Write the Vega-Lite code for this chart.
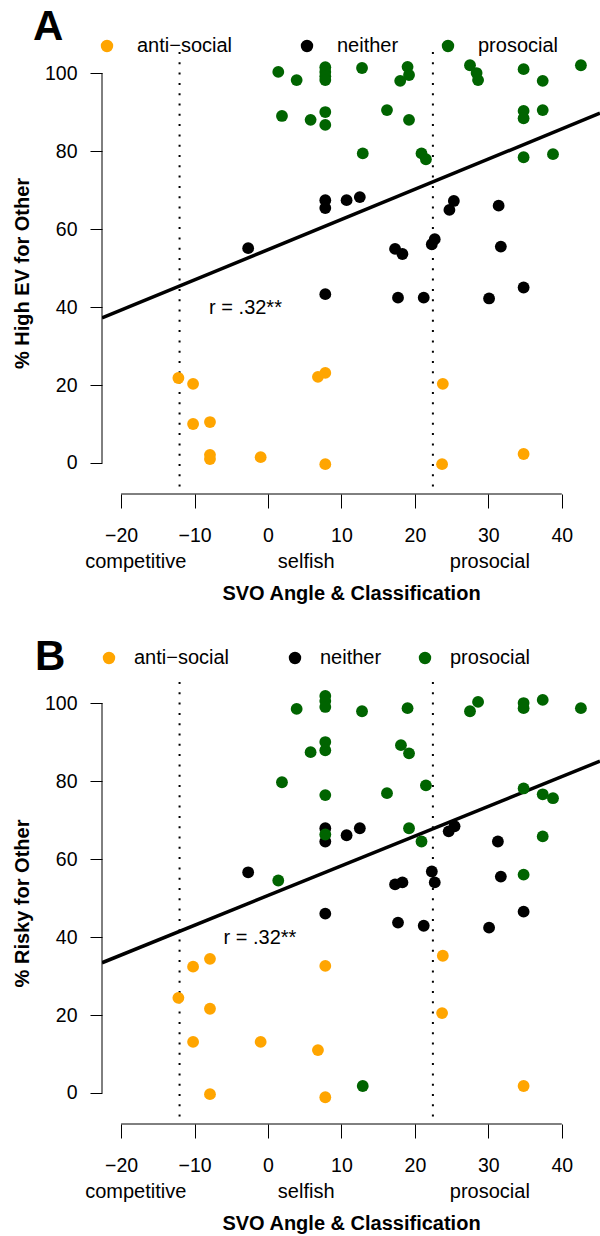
{
  "$schema": "https://vega.github.io/schema/vega-lite/v6.json",
  "autosize": {"type": "none"},
  "padding": {"left": 102, "top": 52, "right": 498, "bottom": 1184},
  "background": "white",
  "bounds": "flush",
  "spacing": 188,
  "config": {
    "font": "Liberation Sans",
    "view": {"stroke": null},
    "axis": {
      "grid": false,
      "domain": false,
      "tickColor": "black",
      "tickWidth": 1,
      "labelColor": "black",
      "titleColor": "black",
      "labelFont": "Liberation Sans",
      "titleFont": "Liberation Sans",
      "labelFontSize": 19.5,
      "titleFontSize": 20,
      "titleFontWeight": "bold",
      "labelFlush": false,
      "labelOverlap": false
    },
    "legend": {
      "orient": "none",
      "direction": "horizontal",
      "title": null,
      "symbolType": "circle",
      "symbolSize": 154,
      "symbolOpacity": 1,
      "symbolStrokeWidth": 0,
      "labelFontSize": 20,
      "labelFont": "Liberation Sans",
      "labelColor": "black",
      "padding": 0
    },
    "text": {"font": "Liberation Sans", "color": "black"}
  },
  "datasets": {
    "A": [
      {"svo": -12.2, "pct": 21.8, "cls": "anti−social"},
      {"svo": -10.2, "pct": 20.3, "cls": "anti−social"},
      {"svo": -10.2, "pct": 10.0, "cls": "anti−social"},
      {"svo": -7.9, "pct": 10.5, "cls": "anti−social"},
      {"svo": -7.9, "pct": 2.1, "cls": "anti−social"},
      {"svo": -7.9, "pct": 1.0, "cls": "anti−social"},
      {"svo": -1.0, "pct": 1.5, "cls": "anti−social"},
      {"svo": 6.8, "pct": 22.1, "cls": "anti−social"},
      {"svo": 7.8, "pct": 23.1, "cls": "anti−social"},
      {"svo": 23.8, "pct": 20.3, "cls": "anti−social"},
      {"svo": 7.8, "pct": -0.3, "cls": "anti−social"},
      {"svo": 23.7, "pct": -0.3, "cls": "anti−social"},
      {"svo": 34.8, "pct": 2.3, "cls": "anti−social"},
      {"svo": -2.7, "pct": 55.1, "cls": "neither"},
      {"svo": 7.8, "pct": 67.4, "cls": "neither"},
      {"svo": 7.8, "pct": 65.4, "cls": "neither"},
      {"svo": 10.7, "pct": 67.4, "cls": "neither"},
      {"svo": 12.5, "pct": 68.2, "cls": "neither"},
      {"svo": 17.3, "pct": 54.9, "cls": "neither"},
      {"svo": 18.3, "pct": 53.6, "cls": "neither"},
      {"svo": 22.3, "pct": 56.1, "cls": "neither"},
      {"svo": 22.7, "pct": 57.4, "cls": "neither"},
      {"svo": 24.7, "pct": 64.9, "cls": "neither"},
      {"svo": 25.3, "pct": 67.2, "cls": "neither"},
      {"svo": 31.4, "pct": 66.0, "cls": "neither"},
      {"svo": 31.7, "pct": 55.5, "cls": "neither"},
      {"svo": 7.8, "pct": 43.3, "cls": "neither"},
      {"svo": 17.7, "pct": 42.4, "cls": "neither"},
      {"svo": 21.2, "pct": 42.4, "cls": "neither"},
      {"svo": 30.1, "pct": 42.2, "cls": "neither"},
      {"svo": 34.8, "pct": 45.0, "cls": "neither"},
      {"svo": 1.4, "pct": 100.3, "cls": "prosocial"},
      {"svo": 3.9, "pct": 98.2, "cls": "prosocial"},
      {"svo": 7.8, "pct": 101.5, "cls": "prosocial"},
      {"svo": 7.8, "pct": 100.3, "cls": "prosocial"},
      {"svo": 7.8, "pct": 99.2, "cls": "prosocial"},
      {"svo": 7.8, "pct": 98.2, "cls": "prosocial"},
      {"svo": 12.8, "pct": 101.3, "cls": "prosocial"},
      {"svo": 18.0, "pct": 98.0, "cls": "prosocial"},
      {"svo": 19.0, "pct": 101.6, "cls": "prosocial"},
      {"svo": 19.2, "pct": 99.5, "cls": "prosocial"},
      {"svo": 27.5, "pct": 102.0, "cls": "prosocial"},
      {"svo": 28.4, "pct": 100.0, "cls": "prosocial"},
      {"svo": 28.6, "pct": 98.2, "cls": "prosocial"},
      {"svo": 34.8, "pct": 101.0, "cls": "prosocial"},
      {"svo": 37.4, "pct": 98.0, "cls": "prosocial"},
      {"svo": 42.6, "pct": 102.0, "cls": "prosocial"},
      {"svo": 1.9, "pct": 89.0, "cls": "prosocial"},
      {"svo": 5.8, "pct": 88.0, "cls": "prosocial"},
      {"svo": 7.8, "pct": 90.0, "cls": "prosocial"},
      {"svo": 7.8, "pct": 86.7, "cls": "prosocial"},
      {"svo": 16.2, "pct": 90.5, "cls": "prosocial"},
      {"svo": 19.2, "pct": 88.0, "cls": "prosocial"},
      {"svo": 34.8, "pct": 90.3, "cls": "prosocial"},
      {"svo": 34.8, "pct": 88.4, "cls": "prosocial"},
      {"svo": 37.4, "pct": 90.5, "cls": "prosocial"},
      {"svo": 12.9, "pct": 79.4, "cls": "prosocial"},
      {"svo": 20.9, "pct": 79.4, "cls": "prosocial"},
      {"svo": 21.5, "pct": 77.9, "cls": "prosocial"},
      {"svo": 34.8, "pct": 78.4, "cls": "prosocial"},
      {"svo": 38.8, "pct": 79.2, "cls": "prosocial"}
    ],
    "B": [
      {"svo": -12.2, "pct": 24.4, "cls": "anti−social"},
      {"svo": -10.2, "pct": 32.4, "cls": "anti−social"},
      {"svo": -7.9, "pct": 34.4, "cls": "anti−social"},
      {"svo": -7.9, "pct": 21.6, "cls": "anti−social"},
      {"svo": -10.2, "pct": 13.1, "cls": "anti−social"},
      {"svo": -1.0, "pct": 13.1, "cls": "anti−social"},
      {"svo": -7.9, "pct": -0.3, "cls": "anti−social"},
      {"svo": 7.8, "pct": 32.6, "cls": "anti−social"},
      {"svo": 6.8, "pct": 11.0, "cls": "anti−social"},
      {"svo": 7.8, "pct": -1.1, "cls": "anti−social"},
      {"svo": 23.8, "pct": 35.2, "cls": "anti−social"},
      {"svo": 23.7, "pct": 20.5, "cls": "anti−social"},
      {"svo": 34.8, "pct": 1.8, "cls": "anti−social"},
      {"svo": -2.7, "pct": 56.6, "cls": "neither"},
      {"svo": 7.8, "pct": 67.9, "cls": "neither"},
      {"svo": 7.8, "pct": 64.5, "cls": "neither"},
      {"svo": 10.7, "pct": 66.1, "cls": "neither"},
      {"svo": 12.5, "pct": 67.9, "cls": "neither"},
      {"svo": 17.3, "pct": 53.5, "cls": "neither"},
      {"svo": 18.3, "pct": 54.0, "cls": "neither"},
      {"svo": 22.3, "pct": 56.8, "cls": "neither"},
      {"svo": 22.7, "pct": 54.0, "cls": "neither"},
      {"svo": 24.6, "pct": 67.1, "cls": "neither"},
      {"svo": 25.4, "pct": 68.4, "cls": "neither"},
      {"svo": 31.3, "pct": 64.5, "cls": "neither"},
      {"svo": 31.7, "pct": 55.5, "cls": "neither"},
      {"svo": 7.8, "pct": 46.0, "cls": "neither"},
      {"svo": 17.7, "pct": 43.7, "cls": "neither"},
      {"svo": 21.2, "pct": 42.9, "cls": "neither"},
      {"svo": 30.1, "pct": 42.4, "cls": "neither"},
      {"svo": 34.8, "pct": 46.5, "cls": "neither"},
      {"svo": 3.9, "pct": 98.5, "cls": "prosocial"},
      {"svo": 1.9, "pct": 79.7, "cls": "prosocial"},
      {"svo": 7.8, "pct": 101.8, "cls": "prosocial"},
      {"svo": 7.8, "pct": 100.5, "cls": "prosocial"},
      {"svo": 7.8, "pct": 99.0, "cls": "prosocial"},
      {"svo": 12.8, "pct": 97.9, "cls": "prosocial"},
      {"svo": 19.0, "pct": 98.7, "cls": "prosocial"},
      {"svo": 27.5, "pct": 97.9, "cls": "prosocial"},
      {"svo": 28.6, "pct": 100.3, "cls": "prosocial"},
      {"svo": 34.8, "pct": 100.0, "cls": "prosocial"},
      {"svo": 34.8, "pct": 98.7, "cls": "prosocial"},
      {"svo": 37.4, "pct": 100.8, "cls": "prosocial"},
      {"svo": 42.6, "pct": 98.7, "cls": "prosocial"},
      {"svo": 5.8, "pct": 87.4, "cls": "prosocial"},
      {"svo": 7.8, "pct": 90.0, "cls": "prosocial"},
      {"svo": 7.8, "pct": 87.9, "cls": "prosocial"},
      {"svo": 18.1, "pct": 89.2, "cls": "prosocial"},
      {"svo": 19.2, "pct": 87.1, "cls": "prosocial"},
      {"svo": 7.8, "pct": 76.4, "cls": "prosocial"},
      {"svo": 16.2, "pct": 76.9, "cls": "prosocial"},
      {"svo": 21.5, "pct": 78.9, "cls": "prosocial"},
      {"svo": 34.8, "pct": 78.1, "cls": "prosocial"},
      {"svo": 37.4, "pct": 76.6, "cls": "prosocial"},
      {"svo": 38.8, "pct": 75.6, "cls": "prosocial"},
      {"svo": 19.2, "pct": 67.9, "cls": "prosocial"},
      {"svo": 7.8, "pct": 66.3, "cls": "prosocial"},
      {"svo": 20.9, "pct": 64.5, "cls": "prosocial"},
      {"svo": 37.4, "pct": 65.8, "cls": "prosocial"},
      {"svo": 34.8, "pct": 56.0, "cls": "prosocial"},
      {"svo": 12.9, "pct": 1.8, "cls": "prosocial"},
      {"svo": 1.4, "pct": 54.5, "cls": "prosocial"}
    ],
    "bounds": [{"svo": -12.04}, {"svo": 22.45}],
    "classes": [
      {"svo": -18.0, "name": "competitive"},
      {"svo": 5.2, "name": "selfish"},
      {"svo": 30.2, "name": "prosocial"}
    ],
    "fitA": [{"svo": -22.6, "pct": 37.2}, {"svo": 45.2, "pct": 89.7}],
    "fitB": [{"svo": -22.6, "pct": 33.4}, {"svo": 45.2, "pct": 85.1}],
    "one": [{}]
  },
  "vconcat": [
    {
      "width": 498,
      "height": 442,
      "title": {"text": "A", "anchor": "start", "frame": "group", "dx": -69, "offset": -46, "fontSize": 42, "fontWeight": "bold", "font": "Liberation Sans", "color": "black", "baseline": "alphabetic"},
      "resolve": {"scale": {"color": "independent"}},
      "layer": [
        {
          "data": {"name": "bounds"},
          "mark": {"type": "rule", "color": "black", "strokeWidth": 2, "strokeDash": [2, 8.3]},
          "encoding": {"x": {"field": "svo", "type": "quantitative"}}
        },
        {
          "data": {"name": "fitA"},
          "mark": {"type": "line", "color": "black", "strokeWidth": 3.5, "clip": true},
          "encoding": {
            "x": {"field": "svo", "type": "quantitative"},
            "y": {"field": "pct", "type": "quantitative"}
          }
        },
        {
          "data": {"name": "A"},
          "transform": [{"filter": {"not": {"field": "cls", "oneOf": ["neither", "prosocial"]}}}],
          "mark": {"type": "circle", "size": 140, "opacity": 1},
          "encoding": {
            "x": {"field": "svo", "type": "quantitative", "scale": {"domain": [-22.6, 45.2], "nice": false, "zero": false},
                  "axis": {"values": [-20, -10, 0, 10, 20, 30, 40], "tickSize": 14, "labelPadding": 18, "title": "SVO Angle & Classification", "titlePadding": 39}},
            "y": {"field": "pct", "type": "quantitative", "scale": {"domain": [-7.95, 105.4], "nice": false, "zero": false},
                  "axis": {"values": [0, 20, 40, 60, 80, 100], "tickSize": 12, "labelPadding": 13, "title": "% High EV for Other", "titlePadding": 12}},
            "color": {"field": "cls", "type": "nominal",
                      "scale": {"domain": ["anti−social"], "range": ["#FFA500"]},
                      "legend": {"legendX": -5, "legendY": -16, "labelOffset": 20}}
          }
        },
        {
          "data": {"name": "A"},
          "transform": [{"filter": {"field": "cls", "oneOf": ["neither", "prosocial"]}}],
          "mark": {"type": "circle", "size": 140, "opacity": 1},
          "encoding": {
            "x": {"field": "svo", "type": "quantitative"},
            "y": {"field": "pct", "type": "quantitative"},
            "color": {"field": "cls", "type": "nominal",
                      "scale": {"domain": ["neither", "prosocial"], "range": ["#000000", "#006400"]},
                      "legend": {"legendX": 195, "legendY": -16, "labelOffset": 20, "columnPadding": 39}}
          }
        },
        {
          "data": {"name": "one"},
          "mark": {"type": "text", "fontSize": 20, "baseline": "middle", "align": "center"},
          "encoding": {"x": {"datum": -3.06}, "y": {"datum": 39.7}, "text": {"value": "r = .32**"}}
        },
        {
          "data": {"name": "classes"},
          "mark": {"type": "text", "fontSize": 20, "baseline": "middle", "align": "center"},
          "encoding": {"x": {"field": "svo", "type": "quantitative"}, "y": {"datum": -25.3}, "text": {"field": "name"}}
        },
        {
          "data": {"name": "one"},
          "mark": {"type": "rule", "color": "black", "strokeWidth": 1},
          "encoding": {"x": {"datum": -20}, "x2": {"datum": 40}, "y": {"datum": -7.95}}
        },
        {
          "data": {"name": "one"},
          "mark": {"type": "rule", "color": "black", "strokeWidth": 1},
          "encoding": {"y": {"datum": 0}, "y2": {"datum": 100}, "x": {"datum": -22.6}}
        }
      ]
    },
    {
      "width": 498,
      "height": 442,
      "title": {"text": "B", "anchor": "start", "frame": "group", "dx": -67, "offset": -64, "fontSize": 42, "fontWeight": "bold", "font": "Liberation Sans", "color": "black", "baseline": "alphabetic"},
      "resolve": {"scale": {"color": "independent"}},
      "layer": [
        {
          "data": {"name": "bounds"},
          "mark": {"type": "rule", "color": "black", "strokeWidth": 2, "strokeDash": [2, 8.3]},
          "encoding": {"x": {"field": "svo", "type": "quantitative"}}
        },
        {
          "data": {"name": "fitB"},
          "mark": {"type": "line", "color": "black", "strokeWidth": 3.5, "clip": true},
          "encoding": {
            "x": {"field": "svo", "type": "quantitative"},
            "y": {"field": "pct", "type": "quantitative"}
          }
        },
        {
          "data": {"name": "B"},
          "transform": [{"filter": {"not": {"field": "cls", "oneOf": ["neither", "prosocial"]}}}],
          "mark": {"type": "circle", "size": 140, "opacity": 1},
          "encoding": {
            "x": {"field": "svo", "type": "quantitative", "scale": {"domain": [-22.6, 45.2], "nice": false, "zero": false},
                  "axis": {"values": [-20, -10, 0, 10, 20, 30, 40], "tickSize": 14, "labelPadding": 18, "title": "SVO Angle & Classification", "titlePadding": 39}},
            "y": {"field": "pct", "type": "quantitative", "scale": {"domain": [-7.95, 105.4], "nice": false, "zero": false},
                  "axis": {"values": [0, 20, 40, 60, 80, 100], "tickSize": 12, "labelPadding": 13, "title": "% Risky for Other", "titlePadding": 12}},
            "color": {"field": "cls", "type": "nominal",
                      "scale": {"domain": ["anti−social"], "range": ["#FFA500"]},
                      "legend": {"legendX": -3, "legendY": -34, "labelOffset": 15}}
          }
        },
        {
          "data": {"name": "B"},
          "transform": [{"filter": {"field": "cls", "oneOf": ["neither", "prosocial"]}}],
          "mark": {"type": "circle", "size": 140, "opacity": 1},
          "encoding": {
            "x": {"field": "svo", "type": "quantitative"},
            "y": {"field": "pct", "type": "quantitative"},
            "color": {"field": "cls", "type": "nominal",
                      "scale": {"domain": ["neither", "prosocial"], "range": ["#000000", "#006400"]},
                      "legend": {"legendX": 183, "legendY": -34, "labelOffset": 15, "columnPadding": 33}}
          }
        },
        {
          "data": {"name": "one"},
          "mark": {"type": "text", "fontSize": 20, "baseline": "middle", "align": "center"},
          "encoding": {"x": {"datum": -1.1}, "y": {"datum": 39.8}, "text": {"value": "r = .32**"}}
        },
        {
          "data": {"name": "classes"},
          "mark": {"type": "text", "fontSize": 20, "baseline": "middle", "align": "center"},
          "encoding": {"x": {"field": "svo", "type": "quantitative"}, "y": {"datum": -25.3}, "text": {"field": "name"}}
        },
        {
          "data": {"name": "one"},
          "mark": {"type": "rule", "color": "black", "strokeWidth": 1},
          "encoding": {"x": {"datum": -20}, "x2": {"datum": 40}, "y": {"datum": -7.95}}
        },
        {
          "data": {"name": "one"},
          "mark": {"type": "rule", "color": "black", "strokeWidth": 1},
          "encoding": {"y": {"datum": 0}, "y2": {"datum": 100}, "x": {"datum": -22.6}}
        }
      ]
    }
  ],
  "resolve": {"scale": {"color": "independent"}, "legend": {"color": "independent"}}
}
